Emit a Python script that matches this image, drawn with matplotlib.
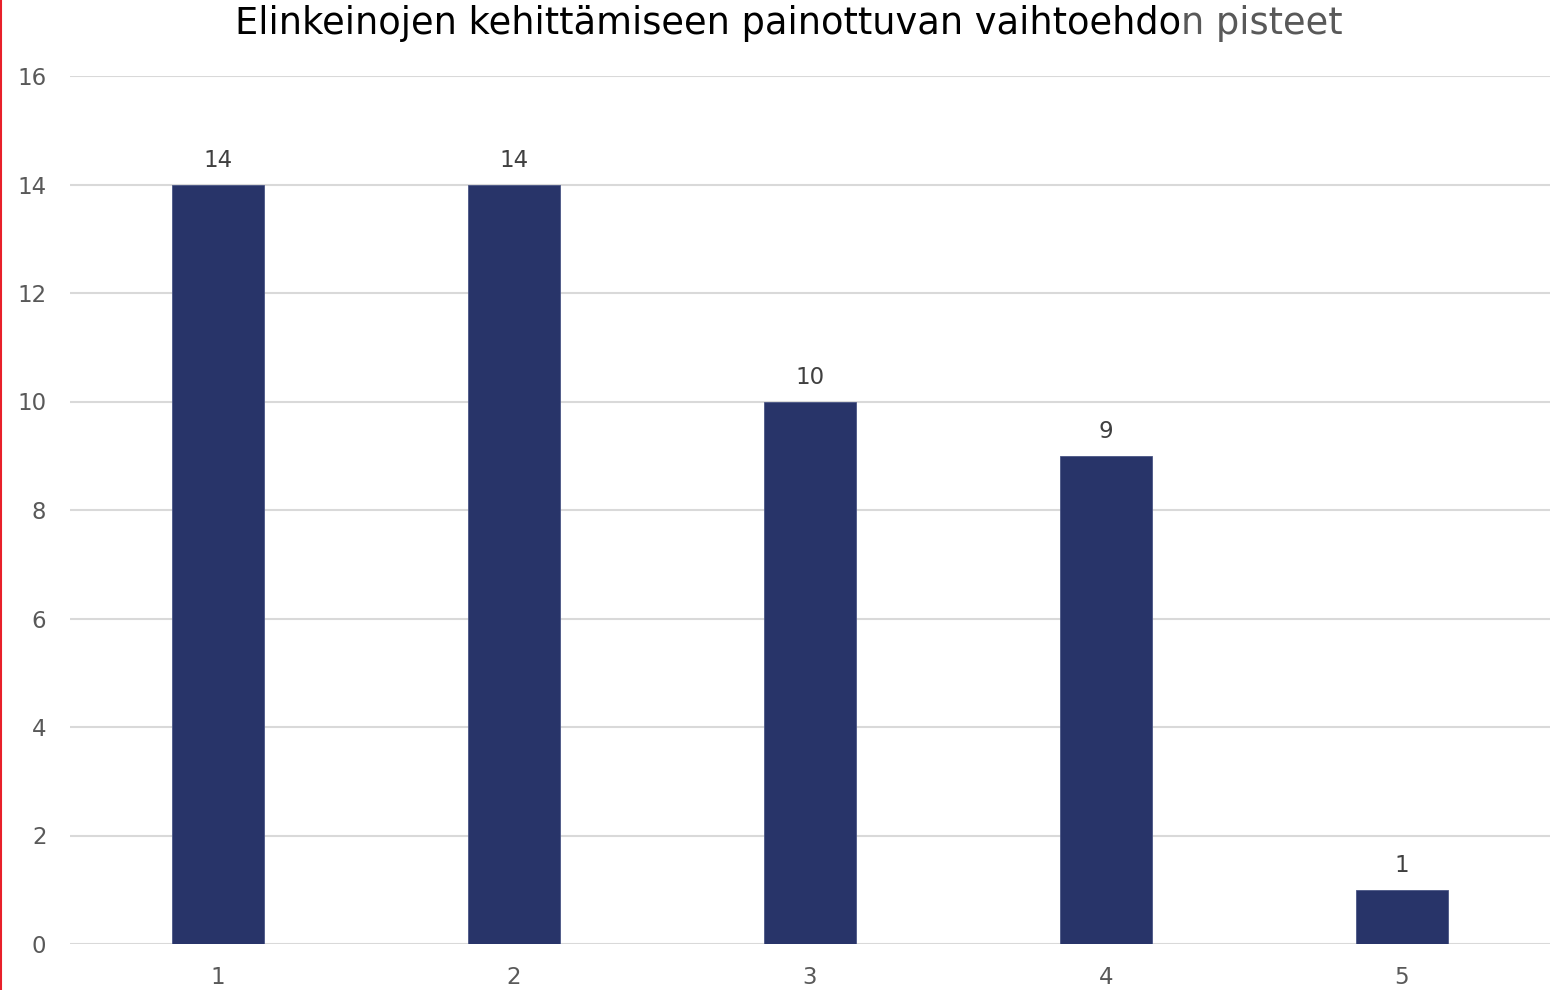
import matplotlib.pyplot as plt
from matplotlib.lines import Line2D

plt.rcParams['font.family'] = ['DejaVu Sans']

categories = ['1', '2', '3', '4', '5']
points = [14, 14, 10, 9, 1]
y_ticks = [0, 2, 4, 6, 8, 10, 12, 14, 16]

bar_color = '#283469'
text_gray = '#595959'

fig = plt.figure(figsize=(15.6, 9.9), dpi=100)
ax = fig.add_axes([70 / 1560, 46 / 990, 1480 / 1560, 868 / 990])

x = list(range(1, len(categories) + 1))
bars = ax.bar(x, points, width=0.31, color=bar_color, edgecolor='#4a5585', linewidth=0.6, zorder=3)

for b, v in zip(bars, points):
    ax.annotate(str(v), (b.get_x() + b.get_width() / 2, v), xytext=(0, 9),
                textcoords='offset points', ha='center', va='bottom',
                fontsize=16.5, color='#404040')

ax.set_xlim(0.5, 5.5)
ax.set_ylim(0, 16)
ax.set_xticks(x)
ax.set_xticklabels(categories)
ax.set_yticks(y_ticks)
ax.tick_params(axis='both', length=0, labelsize=16.5, labelcolor=text_gray)
ax.tick_params(axis='y', pad=17)
ax.tick_params(axis='x', pad=16)
ax.grid(axis='y', color='#d9d9d9', linewidth=1.5, zorder=0)
for s in ax.spines.values():
    s.set_visible(False)

# title in two colours
fig.canvas.draw()
r = fig.canvas.get_renderer()
t1 = fig.text(0, 1 - 5 / 990, 'Elinkeinojen kehittämiseen painottuvan vaihtoehdo',
              fontsize=26.5, color='black', va='top', ha='left')
t2 = fig.text(0, 1 - 5 / 990, 'n pisteet', fontsize=26.5, color=text_gray, va='top', ha='left')
w1 = t1.get_window_extent(r).width
w2 = t2.get_window_extent(r).width
start = 789 - (w1 + w2) / 2
t1.set_x(start / 1560)
t2.set_x((start + w1) / 1560)

# thin red edge on the left
fig.add_artist(Line2D([0.0008, 0.0008], [0, 1], transform=fig.transFigure, color='#e8202a', linewidth=1.5))

plt.savefig('out.png', dpi=100)
